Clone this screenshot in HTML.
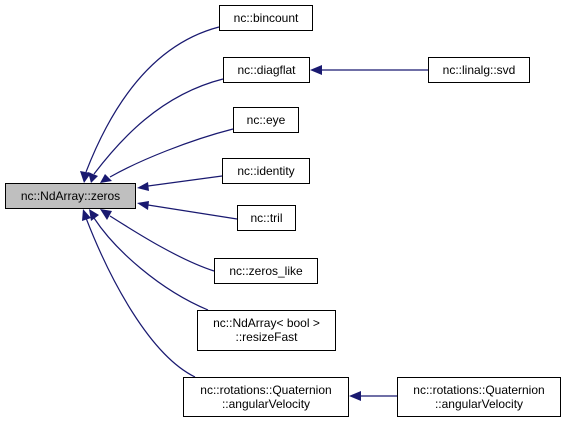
<!DOCTYPE html>
<html><head><style>
body{margin:0;background:#fff;width:568px;height:422px;overflow:hidden;position:relative;font-family:"Liberation Sans",Arial,sans-serif;font-size:12px}
.n{position:absolute;box-sizing:border-box;border:1px solid #000;background:#fff;text-align:center;line-height:24px;color:#000}
.t{line-height:14px;padding-top:5px}
</style></head><body>
<svg width="568" height="422" style="position:absolute;left:0;top:0">
<g fill="none" stroke="#191970" stroke-width="1.2">
<path d="M219,27 C150,45 110,110 86,172"/>
<path d="M223,79 C160,95 120,140 94,174"/>
<path d="M233,129 C190,140 140,160 110,177"/>
<path d="M222,176 L148,186"/>
<path d="M237,219 L148,205"/>
<path d="M214,271 C180,260 140,235 110,216"/>
<path d="M208,310 C160,290 115,250 94,218"/>
<path d="M195,377 C150,355 110,280 86,218"/>
<path d="M428,70 L320,70"/>
<path d="M397,396 L360,396"/>
</g>
<g fill="#191970">
<path d="M84,183 L80,171 L91,173 z"/>
<path d="M91,183 L88,172 L98,176 z"/>
<path d="M100,183 L105,174 L112,181 z"/>
<path d="M137,188 L148,182 L149,191 z"/>
<path d="M137,203 L149,201 L148,210 z"/>
<path d="M100,209 L112,211 L107,220 z"/>
<path d="M89,209 L99,215 L91,221 z"/>
<path d="M83,209 L91,218 L82,221 z"/>
<path d="M310,70 L322,65 L322,75 z"/>
<path d="M349,396 L361,391 L361,401 z"/>
</g>
</svg>
<div class="n" style="left:5px;top:183px;width:131px;height:26px;background:#bfbfbf">nc::NdArray::zeros</div>
<div class="n" style="left:219px;top:5px;width:94px;height:26px">nc::bincount</div>
<div class="n" style="left:223px;top:57px;width:87px;height:26px">nc::diagflat</div>
<div class="n" style="left:428px;top:57px;width:102px;height:26px">nc::linalg::svd</div>
<div class="n" style="left:233px;top:107px;width:66px;height:26px">nc::eye</div>
<div class="n" style="left:222px;top:158px;width:88px;height:26px">nc::identity</div>
<div class="n" style="left:237px;top:205px;width:59px;height:26px">nc::tril</div>
<div class="n" style="left:214px;top:258px;width:104px;height:26px">nc::zeros_like</div>
<div class="n t" style="left:197px;top:310px;width:139px;height:41px">nc::NdArray&lt; bool &gt;<br>::resizeFast</div>
<div class="n t" style="left:183px;top:377px;width:166px;height:40px">nc::rotations::Quaternion<br>::angularVelocity</div>
<div class="n t" style="left:397px;top:377px;width:164px;height:40px">nc::rotations::Quaternion<br>::angularVelocity</div>
</body></html>
